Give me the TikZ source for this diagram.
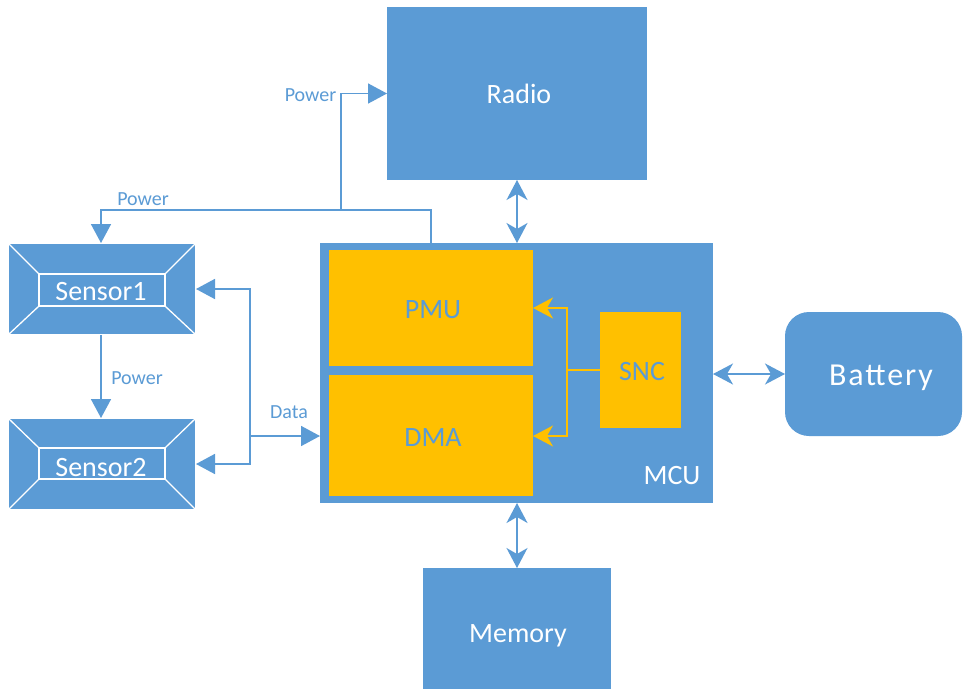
\documentclass[tikz,border=0pt]{standalone}
\usepackage{fontspec}
\setmainfont{Carlito}
\usetikzlibrary{arrows.meta}
\definecolor{bl}{HTML}{5B9BD5}
\definecolor{og}{HTML}{FFC000}
\tikzset{
  TT/.tip={Triangle[length=19pt,width=20pt]},
  SS/.tip={Stealth[length=20pt,width=21pt,inset=6pt]},
  box/.style={fill=bl, inner sep=0pt, outer sep=0pt},
  ybox/.style={fill=og, inner sep=0pt, outer sep=0pt},
  big/.style={font=\fontsize{28}{32}\selectfont, anchor=base, inner sep=0pt},
  lbl/.style={text=bl, font=\fontsize{20}{24}\selectfont, anchor=base, inner sep=0pt},
  ln/.style={draw=bl, line width=1.6pt},
  oln/.style={draw=og, line width=1.6pt},
  wl/.style={draw=white, line width=1.3pt},
}
\begin{document}
\begin{tikzpicture}[x=1pt,y=-1pt]
\useasboundingbox[fill=white] (0,0) rectangle (963,688);
% main blocks
\node[box, minimum width=260pt, minimum height=173pt] (radio) at (517,93.5) {};
\node[box, minimum width=393pt, minimum height=260pt] (mcu) at (516.5,373) {};
\node[ybox, minimum width=204pt, minimum height=116pt] (pmu) at (431,308) {};
\node[ybox, minimum width=204pt, minimum height=121pt] (dma) at (431,435.5) {};
\node[ybox, minimum width=81pt, minimum height=116pt] (snc) at (640.5,370) {};
\node[box, rounded corners=24pt, minimum width=177pt, minimum height=124pt] (bat) at (873.5,374) {};
\node[box, minimum width=188pt, minimum height=125pt] (mem) at (517,630.5) {};
% sensors
\node[box, wl, minimum width=188pt, minimum height=92pt] (s1) at (102,289) {};
\node[wl, inner sep=0pt, minimum width=126pt, minimum height=32pt] (s1i) at (102,290) {};
\draw[wl] (s1.north west) -- (s1i.north west) (s1.north east) -- (s1i.north east)
          (s1.south west) -- (s1i.south west) (s1.south east) -- (s1i.south east);
\node[box, wl, minimum width=188pt, minimum height=92pt] (s2) at (102,464) {};
\node[wl, inner sep=0pt, minimum width=126pt, minimum height=31pt] (s2i) at (102,463.5) {};
\draw[wl] (s2.north west) -- (s2i.north west) (s2.north east) -- (s2i.north east)
          (s2.south west) -- (s2i.south west) (s2.south east) -- (s2i.south east);
% texts
\node[big, text=white] (tradio) at (519,103) {Radio};
\node[big, text=white] (tmem) at (518,642) {Memory};
\node[big, text=bl] (tpmu) at (433,318) {PMU};
\node[big, text=bl] (tdma) at (433,446) {DMA};
\node[big, text=bl] (tsnc) at (642,380) {SNC};
\node[big, text=white] (tmcu) at (672,484) {MCU};
\node[big, text=white, font=\addfontfeatures{LetterSpace=6}\fontsize{32}{36}\selectfont] (tbat) at (881,385) {Battery};
\node[big, text=white] (ts1) at (101,300) {Sensor1};
\node[big, text=white] (ts2) at (101,476) {Sensor2};
% junctions
\coordinate (jA) at (431,210);
\coordinate (jB) at (341,210);
\coordinate (jC) at (101,210);
\coordinate (jD) at (250,436);
\coordinate (jE) at (567,370);
\coordinate (jF) at (567,308);
\coordinate (jG) at (567,436);
% power connectors
\draw[ln,-TT] (mcu.north -| jA) -- (jA) -- (jC) -- (s1.north -| jC);
\draw[ln,-TT] (jB) |- (radio.west);
\draw[ln,-TT] (s1.south -| jC) -- (s2.north -| jC);
% data connectors
\draw[ln,TT-TT] (s1.east) -| (jD |- s2.east) -- (s2.east);
\draw[ln,-TT] (jD) -- (jD -| mcu.west);
% bidirectional links
\draw[ln,SS-SS] (radio.south) -- (radio.south |- mcu.north);
\draw[ln,SS-SS] (mem.north) -- (mem.north |- mcu.south);
\draw[ln,SS-SS] (mcu.east |- bat.west) -- (bat.west);
% SNC links
\draw[oln] (snc.west) -- (jE);
\draw[oln,SS-SS] (jF -| pmu.east) -- (jF) -- (jG) -- (jG -| dma.east);
% labels
\node[lbl] (lp1) at (310.5,101) {Power};
\node[lbl] (lp2) at (143,205) {Power};
\node[lbl] (lp3) at (137,384) {Power};
\node[lbl] (ld) at (289,418) {Data};
\end{tikzpicture}
\end{document}
